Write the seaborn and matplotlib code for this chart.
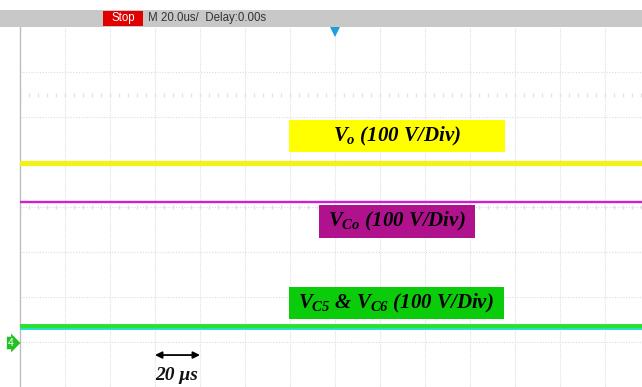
import matplotlib
matplotlib.use("Agg")
import matplotlib.pyplot as plt
import seaborn as sns
import numpy as np
from matplotlib.patches import Rectangle

# ---- data (in divisions) ----
time_us = [-140, -120, -100, -80, -60, -40, -20, 0, 20, 40, 60, 80, 100, 120, 140]
vo_div = [0.98, 0.98, 0.98, 0.98, 0.98, 0.98, 0.98, 0.98, 0.98, 0.98, 0.98, 0.98, 0.98, 0.98, 0.98]
vco_div = [0.12, 0.12, 0.12, 0.12, 0.12, 0.12, 0.12, 0.12, 0.12, 0.12, 0.12, 0.12, 0.12, 0.12, 0.12]
vc56_div = [-2.64, -2.64, -2.64, -2.64, -2.64, -2.64, -2.64, -2.64, -2.64, -2.64, -2.64, -2.64, -2.64, -2.64, -2.64]
label_vo = r"$V_{o}$ (100 V/Div)"
label_vco = r"$V_{Co}$ (100 V/Div)"
label_vc56 = r"$V_{C5}$ & $V_{C6}$ (100 V/Div)"
timebase = "M 20.0us/  Delay:0.00s"
scale_label = "20 μs"

sns.set_style("white")
plt.rcParams["mathtext.fontset"] = "custom"
plt.rcParams["mathtext.it"] = "Liberation Serif:italic:bold"
plt.rcParams["mathtext.rm"] = "Liberation Serif:italic:bold"
plt.rcParams["mathtext.bf"] = "Liberation Serif:italic:bold"

W, H = 642, 387
fig = plt.figure(figsize=(W / 100, H / 100), dpi=100)
fig.patch.set_facecolor("white")

# axes: left edge at x=20px, top at y=27px, 13.82 div wide, 8 div tall
x0px, top_px = 20, 27
ax = fig.add_axes([x0px / W, 0, (W - x0px) / W, (H - top_px) / H])
div_px = 45.0
t_left = -7 * 20.0
t_right = t_left + (W - x0px) / div_px * 20.0
ax.set_xlim(t_left, t_right)
ax.set_ylim(-4, 4)
ax.set_xticks([])
ax.set_yticks([])
for s in ax.spines.values():
    s.set_visible(False)
ax.spines["left"].set_visible(True)
ax.spines["left"].set_color("#BDBDBD")
ax.spines["left"].set_linewidth(1.0)

# grid
for k in range(1, 14):
    ax.axvline(t_left + k * 20, color="#E0E0E0", lw=0.8, ls=(0, (1, 1)), zorder=0)
for k in range(-3, 4):
    ax.axhline(k, color="#DCDCDC", lw=0.8, ls=(0, (1, 1.5)), zorder=0)
# minor ticks on centre lines
mt = np.arange(t_left, t_right, 4.0)
ax.plot(mt, np.zeros_like(mt), ls="none", marker="|", ms=2.5, color="#E0E0E0", zorder=0)
ax.plot(mt, np.full_like(mt, 2.5), ls="none", marker="|", ms=2.5, color="#E3E3E3", zorder=0)

# traces
sns.lineplot(x=time_us, y=vo_div, ax=ax, color="#F2F21A", linewidth=3.8, zorder=3)
sns.lineplot(x=time_us, y=vco_div, ax=ax, color="#D01FD0", linewidth=1.7, zorder=3)
sns.lineplot(x=time_us, y=[v - 0.04 for v in vc56_div], ax=ax, color="#20E0C8", linewidth=2.8, zorder=3)
sns.lineplot(x=time_us, y=vc56_div, ax=ax, color="#2EE02E", linewidth=2.8, zorder=4)


def px2fig(x, y):
    return x / W, 1 - y / H


def box(x1, y1, x2, y2, color):
    bx, by = px2fig(x1, y2)
    fig.patches.append(Rectangle((bx, by), (x2 - x1) / W, (y2 - y1) / H,
                                 transform=fig.transFigure, facecolor=color,
                                 edgecolor="none", zorder=5))


txt_kw = dict(family="Liberation Serif", weight="bold", style="italic",
              fontsize=15, ha="center", va="center", color="black", zorder=6)

box(289, 120, 505, 152, "#FFFF00")
fig.text(*px2fig(397, 136), label_vo, **txt_kw)

box(319, 205, 475, 238, "#B0128E")
fig.text(*px2fig(397, 221), label_vco, **txt_kw)

box(289, 287, 504, 319, "#0ACC0A")
fig.text(*px2fig(396, 303), label_vc56, **txt_kw)

# scale arrow
ax.annotate("", xy=(t_left + 4 * 20, -3.29), xytext=(t_left + 3 * 20, -3.29),
            arrowprops=dict(arrowstyle="<|-|>", color="black", lw=1.3,
                            mutation_scale=10, shrinkA=0, shrinkB=0))
fig.text(*px2fig(177, 375), scale_label, family="Liberation Serif", weight="bold",
         style="italic", fontsize=14, ha="center", va="center", color="#111111")

# top status bar
bx, by = px2fig(0, 27)
fig.patches.append(Rectangle((bx, by), 1, 17 / H, transform=fig.transFigure,
                             facecolor="#C8C8C8", edgecolor="none", zorder=5))
bx, by = px2fig(103, 26)
fig.patches.append(Rectangle((bx, by), 40 / W, 15 / H, transform=fig.transFigure,
                             facecolor="#E00000", edgecolor="none", zorder=6))
fig.text(*px2fig(123, 18.5), "Stop", family="Liberation Sans", fontsize=8.3,
         color="white", ha="center", va="center", zorder=7)
fig.text(*px2fig(148, 18.5), timebase, family="Liberation Sans", fontsize=8.3,
         color="#333333", ha="left", va="center", zorder=7)

# trigger marker
ax.plot([0], [3.91], marker="v", ms=9, color="#1E9FD8", clip_on=False, zorder=8,
        markeredgewidth=0)

# channel 4 marker
fig.text(*px2fig(11, 343), "4", family="Liberation Sans", fontsize=7.5, color="white",
         ha="center", va="center", zorder=8,
         bbox=dict(boxstyle="rarrow,pad=0.12", fc="#22C022", ec="none"))

fig.savefig("out.png", dpi=100)
